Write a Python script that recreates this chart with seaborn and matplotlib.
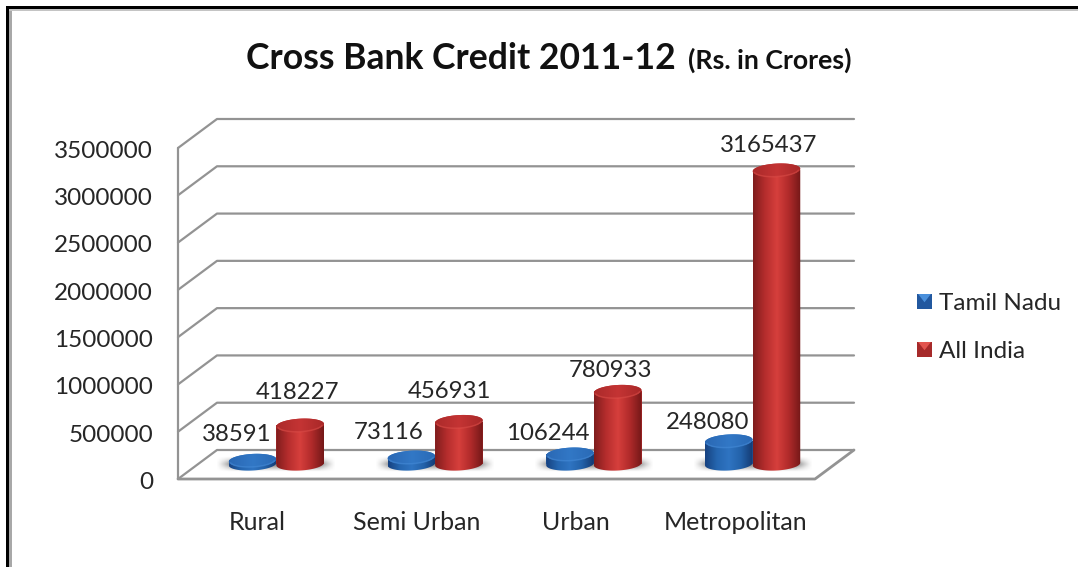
import numpy as np
import pandas as pd
import matplotlib
matplotlib.use("Agg")
import matplotlib.pyplot as plt
import seaborn as sns
from matplotlib.colors import LinearSegmentedColormap
from matplotlib.legend_handler import HandlerBase
from matplotlib.patches import Patch, Polygon, Rectangle
from matplotlib.transforms import ScaledTranslation

# Chart data
areas = ["Rural", "Semi Urban", "Urban", "Metropolitan"]
tamil_nadu = [38591, 73116, 106244, 248080]
all_india = [418227, 456931, 780933, 3165437]
series_names = ["Tamil Nadu", "All India"]
y_ticks = [0, 500000, 1000000, 1500000, 2000000, 2500000, 3000000, 3500000]

# Canvas and layout, in pixels from the top-left corner
W, H = 1078, 567
FRONT_L, FRONT_R, FRONT_BOTTOM, FRONT_TOP = 178, 815, 479, 148
DEPTH_PX_X, DEPTH_PX_Y = 39, 29
BAR_L, BAR_R, BAR_BOTTOM, BAR_TOP = 197, 832, 464, 139
ELLIPSE_B_PX = 6.5
TILT = np.tan(np.radians(3))
GRID_COLOR = "#939393"
TEXT_COLOR = "#262626"
FONT = "Lato"

# Value label offsets from the top of each bar, in pixels
OFFSETS_TN = [(-16, 26), (-23, 25), (-22, 21), (-21, 18)]
OFFSETS_AI = [(-3, 33), (-9, 30), (-7, 21), (-8, 25)]

PALETTES = {
    "Tamil Nadu": dict(base="#2a68b2", side=["#174280", "#2566b0", "#2f74c2", "#2362aa", "#143a72"],
                       top=["#2a68b4", "#3278c6", "#2a6ab6"], rim="#4a90dc"),
    "All India": dict(base="#b82e2e", side=["#7f1d1d", "#b52d2d", "#d63f3c", "#b02a2a", "#741818"],
                      top=["#ab2a2a", "#c43434", "#a82828"], rim="#e2544e"),
}

sns.set_theme(style="white")
plt.rcParams["font.family"] = [FONT, "DejaVu Sans"]


def axes_box(left, right, bottom, top):
    return [left / W, 1 - bottom / H, (right - left) / W, (bottom - top) / H]


fig = plt.figure(figsize=(W / 100, H / 100), dpi=100, facecolor="white")

# Page border: black outer rule with a grey inner rule
fig.add_artist(Rectangle((6 / W, 0), 2.5 / W, 1 - 6 / H, transform=fig.transFigure, color="black", lw=0))
fig.add_artist(Rectangle((6 / W, 1 - 8.5 / H), 1 - 6 / W, 2.5 / H, transform=fig.transFigure, color="black", lw=0))
fig.add_artist(Rectangle((9 / W, 0), 3 / W, 1 - 9 / H, transform=fig.transFigure, color="#a8a8a8", lw=0))
fig.add_artist(Rectangle((9 / W, 1 - 10.5 / H), 1 - 9 / W, 1.2 / H, transform=fig.transFigure, color="#c4c4c4", lw=0))

# Axes carrying the tick labels, floor and receding gridlines
ax = fig.add_axes(axes_box(FRONT_L, FRONT_R, FRONT_BOTTOM, FRONT_TOP))
ax.set_xlim(-0.5, 3.5)
ax.set_ylim(0, 3500000)
ax.patch.set_visible(False)
sns.despine(ax=ax, left=True, bottom=True, top=True, right=True)
ax.set_xticks(range(len(areas)), areas, fontsize=18, color=TEXT_COLOR)
ax.set_yticks(y_ticks, [str(v) for v in y_ticks], fontsize=17.5, color=TEXT_COLOR)
ax.tick_params(axis="x", length=0, pad=23)
ax.tick_params(axis="y", length=0, pad=18)
nudge = ScaledTranslation(0, -1.3 / 100, fig.dpi_scale_trans)
for tick_label in ax.get_yticklabels():
    tick_label.set_transform(tick_label.get_transform() + nudge)

dx = DEPTH_PX_X * 4 / (FRONT_R - FRONT_L)
dy = DEPTH_PX_Y * 3500000 / (FRONT_BOTTOM - FRONT_TOP)
line_style = dict(color=GRID_COLOR, lw=1.6, clip_on=False, solid_capstyle="round", zorder=1)
for v in y_ticks:
    ax.plot([-0.5, -0.5 + dx, 3.5 + dx], [v, v + dy, v + dy], **line_style)
ax.plot([-0.5, -0.5], [0, 3500000], **line_style)
ax.plot([-0.5, 3.5, 3.5 + dx], [0, 0, dy], **{**line_style, "lw": 2.0})

# Axes holding the bars; its baseline sits on the floor
ax_bars = fig.add_axes(axes_box(BAR_L, BAR_R, BAR_BOTTOM, BAR_TOP))
ax_bars.patch.set_visible(False)
frame = pd.DataFrame({
    "Area": areas * 2,
    "Credit": tamil_nadu + all_india,
    "Series": [series_names[0]] * 4 + [series_names[1]] * 4,
})
sns.barplot(data=frame, x="Area", y="Credit", hue="Series", order=areas, hue_order=series_names,
            palette=[PALETTES[s]["base"] for s in series_names], width=0.6, gap=0, dodge=True,
            errorbar=None, legend=False, saturation=1, linewidth=0, ax=ax_bars)
ax_bars.set_xlim(-0.5, 3.5)
ax_bars.set_ylim(0, 3500000)
ax_bars.axis("off")

px_x = 4 / (BAR_R - BAR_L)
px_y = 3500000 / (BAR_BOTTOM - BAR_TOP)


def soft_window(n, edge):
    t = np.linspace(0, 1, n)
    return np.clip(np.minimum(t, 1 - t) / edge, 0, 1) ** 1.3


# Soft floor shadows underneath each pair of bars
shadow = np.zeros((24, 160, 4))
shadow[..., :3] = 0.35
shadow[..., 3] = 0.75 * np.outer(soft_window(24, 0.45), soft_window(160, 0.14))
for i in range(len(areas)):
    half = 60 * px_x
    ax_bars.imshow(shadow, extent=(i - half, i + half, -8 * px_y, 8 * px_y), aspect="auto",
                   zorder=1.5, clip_on=False, interpolation="bilinear")


def elliptic_points(cx, cy, a, start, stop, n=60):
    theta = np.linspace(start, stop, n)
    xs = cx + a * np.cos(theta)
    ys = cy + ELLIPSE_B_PX * px_y * np.sin(theta) + a * np.cos(theta) / px_x * TILT * px_y
    return np.column_stack([xs, ys])


# Dress each seaborn bar as a cylinder: shaded side, round base, lit top
bars = list(ax_bars.patches)
for idx, bar in enumerate(bars):
    name = series_names[idx // len(areas)]
    pal = PALETTES[name]
    z = 3 + 2 * (idx // len(areas)) + (idx % len(areas)) * 0.01
    x0, w, h = bar.get_x(), bar.get_width(), bar.get_height()
    cx, a = x0 + w / 2, w / 2
    bar.set_zorder(z)

    side_pts = np.vstack([[[x0, h], [x0 + w, h]], elliptic_points(cx, 0, a, 0, -np.pi)])
    side_clip = Polygon(side_pts, transform=ax_bars.transData, fc="none", ec="none")
    side_clip.set_clip_on(False)
    ax_bars.add_patch(side_clip)
    side_cmap = LinearSegmentedColormap.from_list("side", pal["side"])
    img = ax_bars.imshow(np.linspace(0, 1, 200)[None, :], cmap=side_cmap, aspect="auto",
                         extent=(x0, x0 + w, -2 * ELLIPSE_B_PX * px_y, h), zorder=z + 0.1)
    img.set_clip_path(side_clip)
    img.set_clip_box(fig.bbox)

    top_pts = elliptic_points(cx, h, a, 0, 2 * np.pi)
    top_clip = Polygon(top_pts, transform=ax_bars.transData, fc=pal["top"][1], ec="none",
                       zorder=z + 0.2, clip_on=False)
    ax_bars.add_patch(top_clip)
    top_cmap = LinearSegmentedColormap.from_list("top", pal["top"])
    top_img = ax_bars.imshow(np.linspace(0, 1, 100)[None, :], cmap=top_cmap, aspect="auto",
                             extent=(x0, x0 + w, h - 2 * ELLIPSE_B_PX * px_y, h + 2 * ELLIPSE_B_PX * px_y),
                             zorder=z + 0.3)
    top_img.set_clip_path(top_clip)
    top_img.set_clip_box(fig.bbox)
    rim = elliptic_points(cx, h, a * 0.94, -0.2, -np.pi + 0.2)
    ax_bars.plot(rim[:, 0], rim[:, 1], color=pal["rim"], lw=1.1, alpha=0.45, zorder=z + 0.4, clip_on=False)

ax_bars.set_xlim(-0.5, 3.5)
ax_bars.set_ylim(0, 3500000)

# Value labels above the bars
offsets = OFFSETS_TN + OFFSETS_AI
for bar, value, (ox, oy) in zip(bars, tamil_nadu + all_india, offsets):
    ax_bars.annotate(str(value), (bar.get_x() + bar.get_width() / 2, value),
                     xytext=(ox * 0.72, oy * 0.72), textcoords="offset points", ha="center", va="center",
                     fontsize=17.3, color=TEXT_COLOR, zorder=20, annotation_clip=False)


class GlossySwatch(HandlerBase):
    """Legend key: a dark square with a lighter wedge along its top edge."""

    def create_artists(self, legend, handle, xd, yd, width, height, fontsize, trans):
        side = 15 * 0.72
        x, y = -xd, -yd + (height - side) / 2
        square = Rectangle((x, y), side, side, fc=handle.get_edgecolor(), ec="none", transform=trans)
        wedge = Polygon([[x + 0.8, y + side], [x + side - 0.8, y + side], [x + side / 2, y + side * 0.45]],
                        fc=handle.get_facecolor(), ec="none", transform=trans)
        return [square, wedge]


legend_keys = [Patch(facecolor="#4a90dc", edgecolor="#22589f"), Patch(facecolor="#e2544e", edgecolor="#a62a2a")]
leg = fig.legend(legend_keys, series_names, loc="upper left", bbox_to_anchor=(917 / W, 1 - 293 / H),
                 frameon=False, fontsize=17.5, labelcolor=TEXT_COLOR, borderpad=0, borderaxespad=0,
                 handlelength=0.62, handletextpad=0.30, labelspacing=1.11,
                 handler_map={Patch: GlossySwatch()})

# Two-part heading
fig.text(246 / W, 1 - 69 / H, "Cross Bank Credit 2011-12", fontsize=25.6, fontweight="bold",
         color="#111111", ha="left", va="baseline")
fig.text(688 / W, 1 - 69 / H, "(Rs. in Crores)", fontsize=19.3, fontweight="bold",
         color="#111111", ha="left", va="baseline")

fig.savefig("out.png", dpi=100, facecolor="white")
